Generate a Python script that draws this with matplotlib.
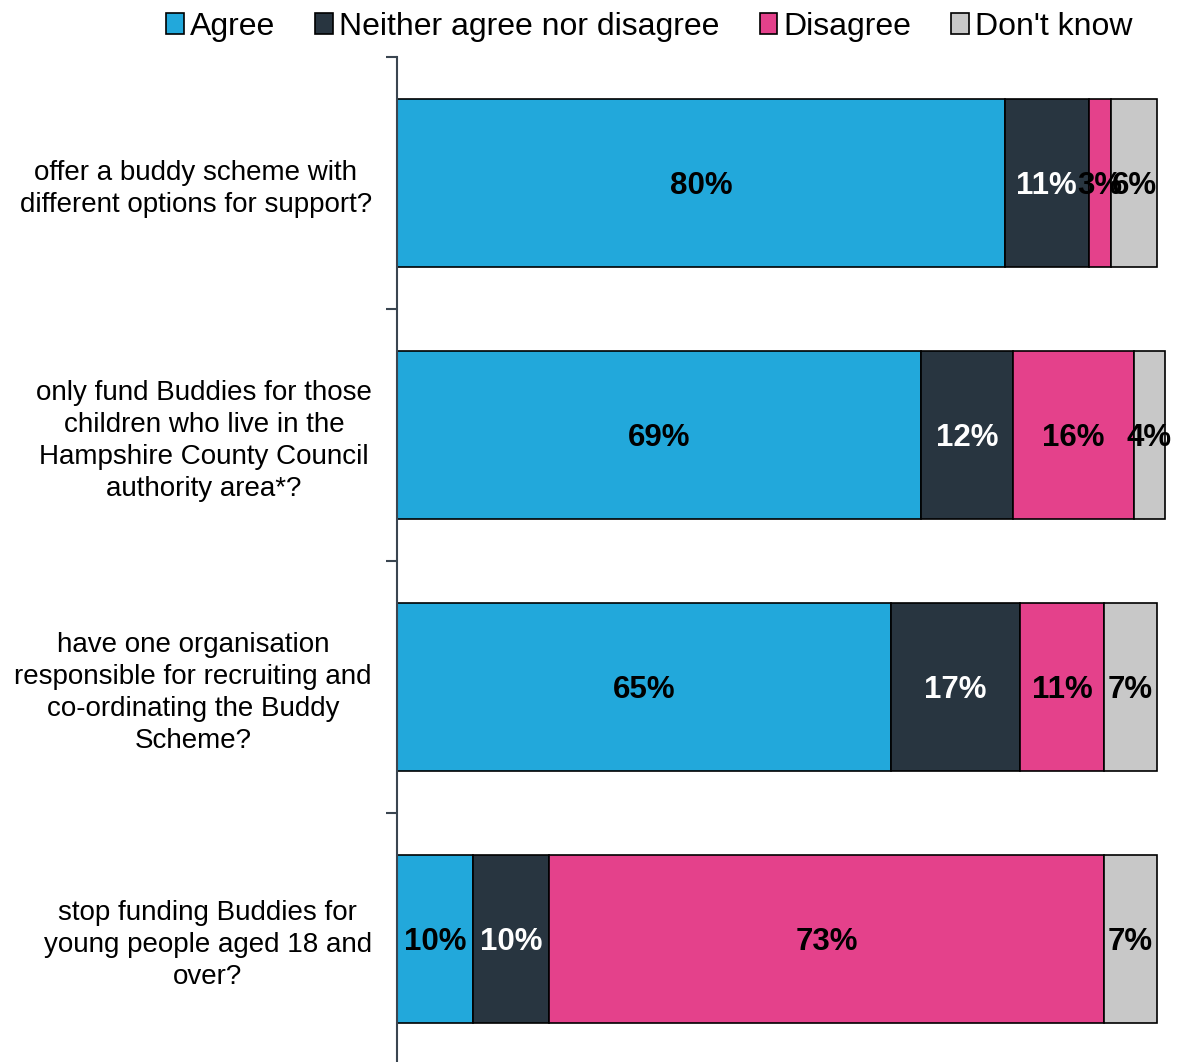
import numpy as np
import matplotlib.pyplot as plt

plt.rcParams['font.family'] = ['Liberation Sans', 'DejaVu Sans']

perguntas = [
    'offer a buddy scheme with\ndifferent options for support?',
    'only fund Buddies for those\nchildren who live in the\nHampshire County Council\nauthority area*?',
    'have one organisation\nresponsible for recruiting and\nco-ordinating the Buddy\nScheme?',
    'stop funding Buddies for\nyoung people aged 18 and\nover?',
]
series = ['Agree', 'Neither agree nor disagree', 'Disagree', "Don't know"]
agree = [80, 69, 65, 10]
neither = [11, 12, 17, 10]
disagree = [3, 16, 11, 73]
dont_know = [6, 4, 7, 7]

cores = ['#22A8DB', '#283540', '#E4418B', '#C8C8C8']
cores_texto = ['black', 'white', 'black', 'black']

fig = plt.figure(figsize=(11.92, 10.62), dpi=100)
ax = fig.add_axes([0.333, -0.003, 0.667, 0.949])

y = np.arange(len(perguntas))
esquerda = np.zeros(len(perguntas))
for valores, nome, cor, cor_txt in zip([agree, neither, disagree, dont_know], series, cores, cores_texto):
    valores = np.array(valores, dtype=float)
    ax.barh(y, valores, left=esquerda, height=0.667, color=cor,
            edgecolor='black', linewidth=1.2, label=nome)
    for yi, v, l in zip(y, valores, esquerda):
        ax.text(l + v / 2, yi + 0.01, f'{int(v)}%', ha='center', va='center',
                fontsize=22.5, fontweight='bold', color=cor_txt)
    esquerda += valores

ax.set_xlim(0, 104.6)
ax.set_ylim(len(perguntas) - 0.5, -0.5)
ax.set_xticks([])
ax.set_yticks(y)
ax.set_yticklabels(perguntas, fontsize=20, multialignment='center', linespacing=1.3)
ax.tick_params(axis='y', which='major', length=0, pad=18)
ax.set_yticks(np.arange(-0.5, len(perguntas)), minor=True)
ax.tick_params(axis='y', which='minor', length=8, width=1.5, color='#3a4550')
for lado in ['top', 'right', 'bottom']:
    ax.spines[lado].set_visible(False)
ax.spines['left'].set_color('#3a4550')
ax.spines['left'].set_linewidth(1.5)

fig.legend(loc='upper center', bbox_to_anchor=(0.545, 1.016), ncol=4, frameon=False,
           fontsize=23, handlelength=0.55, handleheight=0.6, handletextpad=0.2,
           columnspacing=1.25)

fig.savefig('out.png', dpi=100)
